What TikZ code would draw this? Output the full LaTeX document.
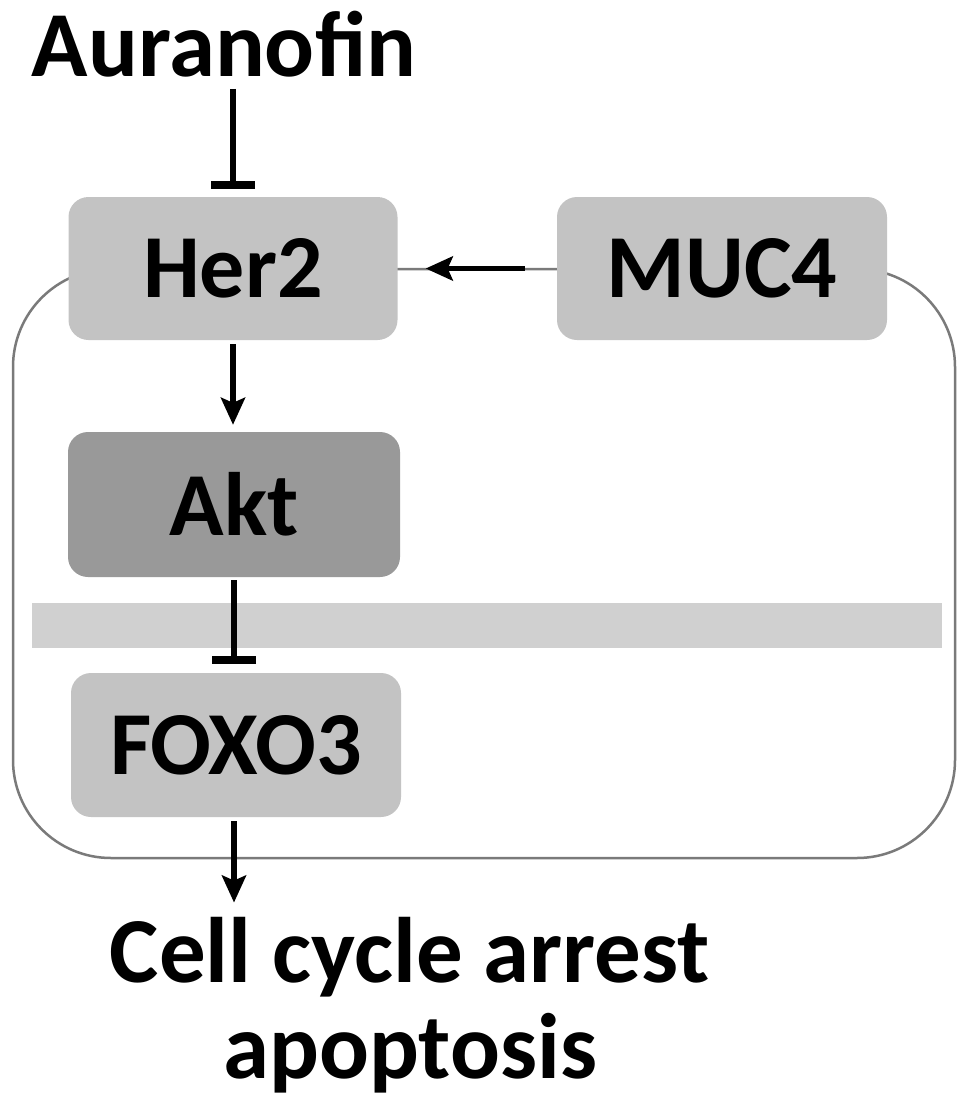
\documentclass[tikz,border=0pt]{standalone}
\usepackage{fontspec}
\setmainfont{Carlito}
\usetikzlibrary{arrows.meta}
\definecolor{boxlight}{HTML}{C3C3C3}
\definecolor{boxdark}{HTML}{999999}
\definecolor{barfill}{HTML}{D0D0D0}
\definecolor{cellline}{HTML}{7A7A7A}
\begin{document}
\begin{tikzpicture}[x=1pt,y=-1pt,
  lbl/.style={font=\fontsize{93}{96}\selectfont\bfseries, inner sep=0pt},
  protein/.style={rounded corners=20pt, fill=boxlight, inner sep=0pt,
    font=\fontsize{90}{90}\selectfont\bfseries, text=black},
  act/.style={line width=5.5pt, -{Stealth[length=27pt,width=24pt,inset=5pt]}},
  inh/.style={line width=5.5pt, -{Bar[width=44pt,line width=8pt]}},
]
\useasboundingbox (0,0) rectangle (969,1113);
% cell outline and grey band
\draw[cellline, line width=2.5pt, rounded corners=98pt] (13,269) rectangle (955,858);
\fill[barfill] (32,603) rectangle (942,648);
% nodes
\node[lbl, anchor=base] (aur) at (224,77) {Auranofin};
\node[protein, minimum width=329pt, minimum height=143pt] (her2) at (233,268.5) {Her2};
\node[protein, minimum width=330pt, minimum height=143pt] (muc4) at (722,268.5) {MUC4};
\node[protein, fill=boxdark, minimum width=332pt, minimum height=145pt] (akt) at (234,504.5) {Akt};
\node[protein, minimum width=330pt, minimum height=144pt] (foxo) at (236,745) {FOXO3};
\node[lbl, anchor=base, align=center] (out) at (410,1078) {Cell cycle arrest\\apoptosis};
% connectors
\draw[inh, shorten <=11pt, shorten >=8pt] (aur.south -| her2.north) -- (her2.north);
\draw[act, shorten <=32pt, shorten >=28pt] (muc4.west) -- (her2.east);
\draw[act, shorten <=4pt, shorten >=7pt] (her2.south) -- (her2.south |- akt.north);
\draw[inh, shorten <=3pt, shorten >=9pt] (akt.south) -- (akt.south |- foxo.north);
\draw[act, shorten <=4pt, shorten >=14pt] (foxo.south -| akt.south) -- (akt.south |- out.north);
\end{tikzpicture}
\end{document}
